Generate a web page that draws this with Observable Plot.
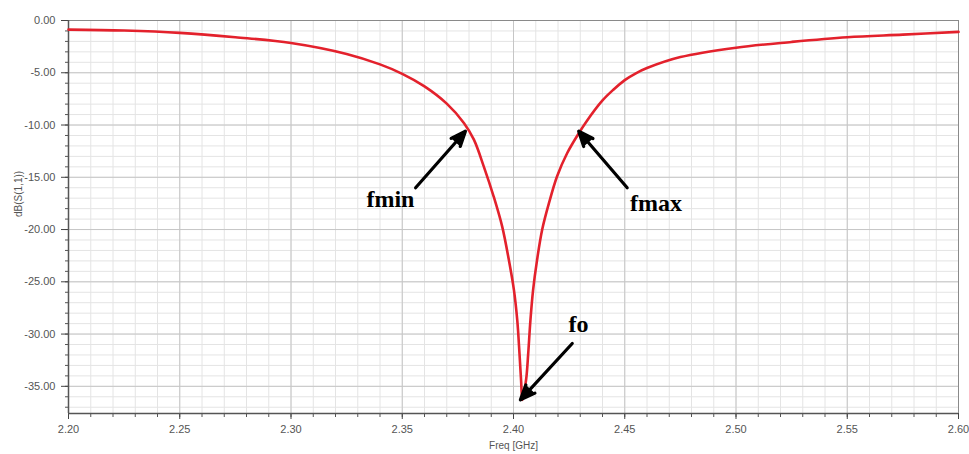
<!DOCTYPE html>
<html><head><meta charset="utf-8">
<script src="https://cdn.jsdelivr.net/npm/d3@7"></script>
<script src="https://cdn.jsdelivr.net/npm/@observablehq/plot@0.6"></script>
<style>body{margin:0;background:#fff}</style>
</head><body><div id="chart"></div>
<script>
// S11 response
const freq = [2.200, 2.225, 2.250, 2.275, 2.300, 2.325, 2.340, 2.350, 2.360, 2.370,
  2.3777, 2.3822, 2.3867, 2.3911, 2.3949, 2.3979, 2.4002, 2.4017, 2.4027, 2.4034,
  2.4040, 2.4057, 2.4066, 2.4076, 2.4088, 2.4106, 2.4129, 2.4159, 2.4196, 2.4241,
  2.4293, 2.4325, 2.440, 2.445, 2.450, 2.455, 2.460, 2.475, 2.500, 2.525, 2.550, 2.575, 2.600];
const s11 = [-0.87, -0.96, -1.18, -1.60, -2.15, -3.20, -4.20, -5.10, -6.30, -7.95,
  -9.80, -11.4, -14.0, -16.85, -19.7, -22.9, -25.8, -28.7, -31.9, -34.4,
  -36.3, -34.3, -31.9, -28.7, -25.8, -22.9, -20.0, -17.5, -14.9, -12.7,
  -10.8, -9.75, -7.65, -6.6, -5.7, -5.05, -4.55, -3.5, -2.6, -2.05, -1.6, -1.35, -1.09];

const xTicks = [2.20, 2.25, 2.30, 2.35, 2.40, 2.45, 2.50, 2.55, 2.60];
const yTicks = [0, -5, -10, -15, -20, -25, -30, -35];
const xDomain = [2.20, 2.60];
const yDomain = [-37.6, 0];
const xLabel = "Freq [GHz]";
const yLabel = "dB(S(1,1))";

// annotations
const annLabels = ["fmin", "fmax", "fo"];
const annTipFreq = [2.3784, 2.4293, 2.4031];
const annTipDb = [-10.6, -10.6, -36.3];
const annTailFreq = [2.3560, 2.4511, 2.4264];
const annTailDb = [-16.0, -16.0, -30.9];
const annTextFreq = [2.3447, 2.4640, 2.4292];
const annTextDb = [-17.1, -17.5, -29.1];

const curve = freq.map((f, i) => ({f, db: s11[i]}));
const ann = annLabels.map((t, i) => ({
  t, x1: annTailFreq[i], y1: annTailDb[i], x2: annTipFreq[i], y2: annTipDb[i],
  tx: annTextFreq[i], ty: annTextDb[i]
}));
const minorX = d3.range(0, 41).map(i => +(2.2 + i * 0.01).toFixed(2));
const minorY = d3.range(0, 38).map(i => -i);
const fmt2 = d => d.toFixed(2);

const chart = Plot.plot({
  width: 969,
  height: 454,
  marginLeft: 68,
  marginRight: 11,
  marginTop: 20,
  marginBottom: 41,
  style: {background: "#fff", fontFamily: "'Liberation Sans', Arial, sans-serif"},
  x: {domain: xDomain},
  y: {domain: yDomain},
  marks: [
    Plot.gridX(minorX, {stroke: "#e4e4e4", strokeOpacity: 1}),
    Plot.gridY(minorY, {stroke: "#e4e4e4", strokeOpacity: 1}),
    Plot.gridX(xTicks, {stroke: "#c6c6c6", strokeOpacity: 1}),
    Plot.gridY(yTicks, {stroke: "#c6c6c6", strokeOpacity: 1}),
    Plot.frame({stroke: "#8a8a8a"}),
    Plot.axisX(minorX, {tickSize: 4, tickFormat: () => "", stroke: "#555", label: null}),
    Plot.axisX(xTicks, {tickSize: 6, tickPadding: 6, tickFormat: fmt2, fontSize: 11, fill: "#555", stroke: "#444", label: null}),
    Plot.axisY(minorY, {tickSize: 3, tickFormat: () => "", stroke: "#555", label: null}),
    Plot.axisY(yTicks, {tickSize: 7, tickPadding: 6, tickFormat: fmt2, fontSize: 11, fill: "#555", stroke: "#444", label: null}),
    Plot.ruleY([yDomain[0]], {stroke: "#555", strokeWidth: 1.5}),
    Plot.ruleX([xDomain[0]], {stroke: "#555", strokeWidth: 1.5}),
    Plot.line(curve, {x: "f", y: "db", stroke: "#e3212c", strokeWidth: 2.6, curve: "catmull-rom"}),
    Plot.arrow(ann, {x1: "x1", y1: "y1", x2: "x2", y2: "y2", stroke: "#000", fill: "#000", strokeWidth: 3.2, headLength: 7.5, headAngle: 45}),
    Plot.text(ann, {x: "tx", y: "ty", text: "t", fontSize: 24, fontWeight: "bold", fontFamily: "'Liberation Serif', 'Times New Roman', serif", fill: "#000", textAnchor: "middle", lineAnchor: "middle"}),
    Plot.text([xLabel], {text: d => d, frameAnchor: "bottom", dy: 32, fontSize: 10, fill: "#555", lineAnchor: "middle"}),
    Plot.text([yLabel], {text: d => d, frameAnchor: "left", dx: -50, rotate: -90, fontSize: 10, fill: "#555", lineAnchor: "middle"})
  ]
});
document.getElementById("chart").appendChild(chart);
</script>
</body></html>
